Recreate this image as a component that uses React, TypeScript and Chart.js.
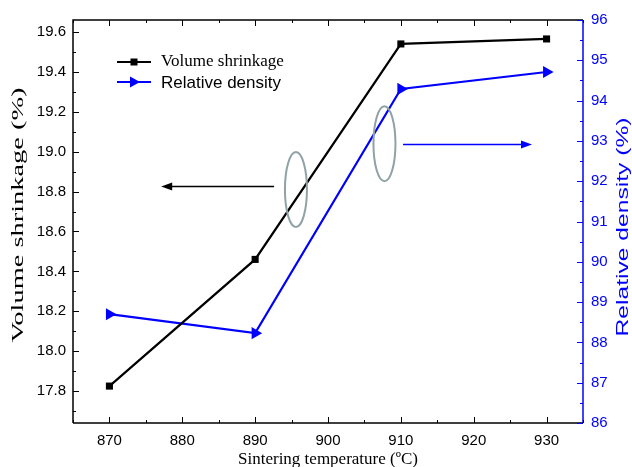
import React, { useEffect, useRef } from "react";
import { Chart, registerables } from "chart.js";

Chart.register(...registerables);

const temperatures = [870, 890, 910, 930];
const volumeShrinkage = [17.825, 18.46, 19.54, 19.565];
const relativeDensity = [88.7, 88.23, 94.29, 94.71];

const xTicks = [870, 880, 890, 900, 910, 920, 930];
const xMinorTicks = [865, 875, 885, 895, 905, 915, 925, 935];
const yLeftTicks = [17.8, 18.0, 18.2, 18.4, 18.6, 18.8, 19.0, 19.2, 19.4, 19.6];
const yLeftMinor = [17.7, 17.9, 18.1, 18.3, 18.5, 18.7, 18.9, 19.1, 19.3, 19.5];
const yRightTicks = [86, 87, 88, 89, 90, 91, 92, 93, 94, 95, 96];
const yRightMinor = [86.5, 87.5, 88.5, 89.5, 90.5, 91.5, 92.5, 93.5, 94.5, 95.5];

// annotation anchors in data units
const ellipseCenters = [
  { x: 895.6, y: 18.81 },
  { x: 907.75, y: 19.04 },
];
const leftArrow = { from: 892.6, to: 877.1, y: 18.83 };
const rightArrow = { from: 910.3, to: 928.0, y: 92.92 };

const SANS = "'Liberation Sans', Arial, sans-serif";
const SERIF = "'Liberation Serif', 'Times New Roman', serif";
const BLUE = "#0000ff";

function stretchedVertical(
  ctx: CanvasRenderingContext2D,
  text: string,
  cx: number,
  cy: number,
  length: number,
  font: string,
  color: string
) {
  ctx.save();
  ctx.font = font;
  ctx.fillStyle = color;
  ctx.textAlign = "center";
  ctx.textBaseline = "middle";
  const w = ctx.measureText(text).width;
  ctx.translate(cx, cy);
  ctx.rotate(-Math.PI / 2);
  ctx.scale(length / w, 1);
  ctx.fillText(text, 0, 0);
  ctx.restore();
}

const decorPlugin = {
  id: "decor",
  afterDraw(chart: any) {
    const ctx = chart.ctx as CanvasRenderingContext2D;
    const { left, right, top, bottom } = chart.chartArea;
    const xs = chart.scales.x;
    const yl = chart.scales.y;
    const yr = chart.scales.y1;
    ctx.save();
    // borders
    ctx.lineWidth = 1.5;
    ctx.strokeStyle = "#000";
    ctx.beginPath();
    ctx.moveTo(left, bottom);
    ctx.lineTo(left, top);
    ctx.lineTo(right, top);
    ctx.moveTo(left, bottom);
    ctx.lineTo(right, bottom);
    ctx.stroke();
    ctx.strokeStyle = BLUE;
    ctx.beginPath();
    ctx.moveTo(right, top);
    ctx.lineTo(right, bottom);
    ctx.stroke();

    // ticks
    ctx.lineWidth = 1;
    ctx.strokeStyle = "#000";
    ctx.beginPath();
    for (const v of xTicks) {
      const px = Math.round(xs.getPixelForValue(v)) + 0.5;
      ctx.moveTo(px, bottom);
      ctx.lineTo(px, bottom - 6);
      ctx.moveTo(px, top);
      ctx.lineTo(px, top + 6);
    }
    for (const v of xMinorTicks) {
      const px = Math.round(xs.getPixelForValue(v)) + 0.5;
      ctx.moveTo(px, bottom);
      ctx.lineTo(px, bottom - 3);
      ctx.moveTo(px, top);
      ctx.lineTo(px, top + 3);
    }
    for (const v of yLeftTicks) {
      const py = Math.round(yl.getPixelForValue(v)) + 0.5;
      ctx.moveTo(left, py);
      ctx.lineTo(left + 6, py);
    }
    for (const v of yLeftMinor) {
      const py = Math.round(yl.getPixelForValue(v)) + 0.5;
      ctx.moveTo(left, py);
      ctx.lineTo(left + 3, py);
    }
    ctx.stroke();
    ctx.strokeStyle = BLUE;
    ctx.beginPath();
    for (const v of yRightTicks) {
      const py = Math.round(yr.getPixelForValue(v)) + 0.5;
      ctx.moveTo(right, py);
      ctx.lineTo(right - 6, py);
    }
    for (const v of yRightMinor) {
      const py = Math.round(yr.getPixelForValue(v)) + 0.5;
      ctx.moveTo(right, py);
      ctx.lineTo(right - 3, py);
    }
    ctx.stroke();

    // ellipses
    ctx.strokeStyle = "#8fa2a5";
    ctx.lineWidth = 2;
    for (const e of ellipseCenters) {
      const cx = xs.getPixelForValue(e.x);
      const cy = yl.getPixelForValue(e.y);
      ctx.beginPath();
      ctx.ellipse(cx, cy, 11, 37.5, 0, 0, Math.PI * 2);
      ctx.stroke();
    }

    // arrows
    const drawArrow = (x1: number, x2: number, y: number, color: string) => {
      ctx.strokeStyle = color;
      ctx.fillStyle = color;
      ctx.lineWidth = 1.5;
      const dir = Math.sign(x2 - x1);
      ctx.beginPath();
      ctx.moveTo(x1, y);
      ctx.lineTo(x2 - dir * 8, y);
      ctx.stroke();
      ctx.beginPath();
      ctx.moveTo(x2, y);
      ctx.lineTo(x2 - dir * 11, y - 4);
      ctx.lineTo(x2 - dir * 11, y + 4);
      ctx.closePath();
      ctx.fill();
    };
    drawArrow(
      xs.getPixelForValue(leftArrow.from),
      xs.getPixelForValue(leftArrow.to),
      Math.round(yl.getPixelForValue(leftArrow.y)) + 0.5,
      "#000"
    );
    drawArrow(
      xs.getPixelForValue(rightArrow.from),
      xs.getPixelForValue(rightArrow.to),
      Math.round(yr.getPixelForValue(rightArrow.y)) + 0.5,
      BLUE
    );

    // legend
    const lx1 = 117, lx2 = 151, tx = 161;
    const ly1 = 62, ly2 = 82;
    ctx.lineWidth = 2.2;
    ctx.strokeStyle = "#000";
    ctx.beginPath();
    ctx.moveTo(lx1, ly1);
    ctx.lineTo(lx2, ly1);
    ctx.stroke();
    ctx.fillStyle = "#000";
    ctx.fillRect(134 - 3.5, ly1 - 3.5, 7, 7);
    ctx.strokeStyle = BLUE;
    ctx.beginPath();
    ctx.moveTo(lx1, ly2);
    ctx.lineTo(lx2, ly2);
    ctx.stroke();
    ctx.fillStyle = BLUE;
    ctx.beginPath();
    ctx.moveTo(140, ly2);
    ctx.lineTo(130, ly2 - 5.5);
    ctx.lineTo(130, ly2 + 5.5);
    ctx.closePath();
    ctx.fill();
    ctx.fillStyle = "#000";
    ctx.textBaseline = "middle";
    ctx.textAlign = "left";
    ctx.font = `17px ${SERIF}`;
    ctx.fillText("Volume shrinkage", tx, ly1);
    ctx.font = `17px ${SANS}`;
    ctx.fillText("Relative density", tx, ly2 + 1);

    // axis titles
    ctx.textAlign = "center";
    ctx.font = `17px ${SERIF}`;
    ctx.fillStyle = "#000";
    ctx.fillText("Sintering temperature (ºC)", (left + right) / 2, 460);
    stretchedVertical(ctx, "Volume shrinkage (%)", 19, 215, 255, `17px ${SERIF}`, "#000");
    stretchedVertical(ctx, "Relative density (%)", 623, 227, 219, `17px ${SANS}`, BLUE);

    ctx.restore();
  },
};

export default function App() {
  const ref = useRef<HTMLCanvasElement | null>(null);
  useEffect(() => {
    if (!ref.current) return;
    const chart = new Chart(ref.current, {
      type: "line",
      data: {
        datasets: [
          {
            label: "Volume shrinkage",
            data: temperatures.map((t, i) => ({ x: t, y: volumeShrinkage[i] })),
            borderColor: "#000",
            backgroundColor: "#000",
            borderWidth: 2.2,
            pointStyle: "rect",
            pointRadius: 5,
            pointBorderWidth: 0,
            yAxisID: "y",
          },
          {
            label: "Relative density",
            data: temperatures.map((t, i) => ({ x: t, y: relativeDensity[i] })),
            borderColor: BLUE,
            backgroundColor: BLUE,
            borderWidth: 2.2,
            pointStyle: "triangle",
            pointRotation: 90,
            pointRadius: 7,
            pointBorderWidth: 0,
            yAxisID: "y1",
          },
        ],
      },
      options: {
        animation: false,
        responsive: false,
        maintainAspectRatio: false,
        layout: { padding: { top: 20, left: 0, right: 0, bottom: 0 } },
        plugins: { legend: { display: false }, tooltip: { enabled: false } },
        scales: {
          x: {
            type: "linear",
            min: 865,
            max: 935,
            grid: { display: false, drawTicks: false, tickLength: 0 },
            border: { display: false },
            afterBuildTicks: (s: any) => {
              s.ticks = xTicks.map((v) => ({ value: v }));
            },
            afterFit: (s: any) => {
              s.height = 44;
            },
            ticks: {
              padding: 9,
              color: "#000",
              font: { family: SANS, size: 15 },
              maxRotation: 0,
            },
          },
          y: {
            type: "linear",
            position: "left",
            min: 17.64,
            max: 19.66,
            grid: { display: false, drawTicks: false, tickLength: 0 },
            border: { display: false },
            afterBuildTicks: (s: any) => {
              s.ticks = yLeftTicks.map((v) => ({ value: v }));
            },
            afterFit: (s: any) => {
              s.width = 73;
            },
            ticks: {
              padding: 7,
              color: "#000",
              font: { family: SANS, size: 15 },
              callback: (v: any) => Number(v).toFixed(1),
            },
          },
          y1: {
            type: "linear",
            position: "right",
            min: 86,
            max: 96,
            grid: { display: false, drawTicks: false, tickLength: 0 },
            border: { display: false },
            afterBuildTicks: (s: any) => {
              s.ticks = yRightTicks.map((v) => ({ value: v }));
            },
            afterFit: (s: any) => {
              s.width = 49;
            },
            ticks: {
              padding: 8,
              color: BLUE,
              font: { family: SANS, size: 15 },
            },
          },
        },
      },
      plugins: [decorPlugin],
    } as any);
    return () => chart.destroy();
  }, []);
  return (
    <div style={{ position: "fixed", left: 0, top: 0, width: 632, height: 467, background: "#fff" }}>
      <canvas ref={ref} width={632} height={467} style={{ display: "block" }} />
    </div>
  );
}
